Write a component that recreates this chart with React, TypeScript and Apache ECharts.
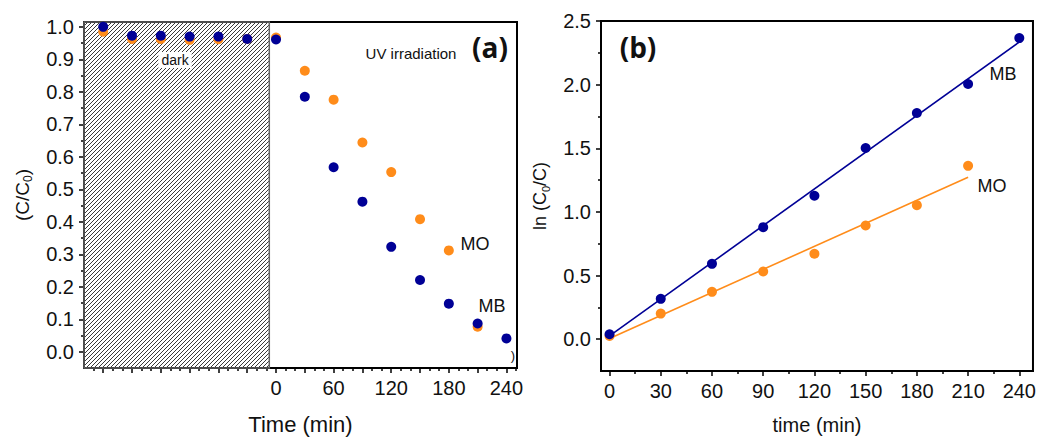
import React, { useEffect, useRef } from "react";
import * as echarts from "echarts";

// ---------- Panel (a): C/C0 vs time ----------
const moTimesA = [-180, -150, -120, -90, -60, -30, 0, 30, 60, 90, 120, 150, 180, 210];
const moRatio = [0.985, 0.963, 0.963, 0.96, 0.962, 0.963, 0.967, 0.865, 0.776, 0.644, 0.553, 0.408, 0.312, 0.077];
const mbTimesA = [-180, -150, -120, -90, -60, -30, 0, 30, 60, 90, 120, 150, 180, 210, 240];
const mbRatio = [1.0, 0.973, 0.973, 0.97, 0.97, 0.963, 0.961, 0.785, 0.568, 0.462, 0.323, 0.221, 0.148, 0.087, 0.041];
const darkSpan = [-200, -7];

const aXMajorTicks = [-180, -150, -120, -90, -60, -30, 0, 30, 60, 90, 120, 150, 180, 210, 240];
const aXMinorTicks = [-190, -170, -160, -140, -130, -110, -100, -80, -70, -50, -40, -20, -10, 10, 20, 40, 50, 70, 80, 100, 110, 130, 140, 160, 170, 190, 200, 220, 230, 250];
const aXLabels = [0, 60, 120, 180, 240];
const aYLabels = [0, 0.1, 0.2, 0.3, 0.4, 0.5, 0.6, 0.7, 0.8, 0.9, 1.0];
const aYMinorTicks = [0.05, 0.15, 0.25, 0.35, 0.45, 0.55, 0.65, 0.75, 0.85, 0.95];

// ---------- Panel (b): ln(C0/C) vs time ----------
const timesB = [0, 30, 60, 90, 120, 150, 180, 210, 240];
const mbLn = [0.039, 0.317, 0.592, 0.88, 1.127, 1.502, 1.777, 2.005, 2.366];
const moTimesB = [0, 30, 60, 90, 120, 150, 180, 210];
const moLn = [0.025, 0.201, 0.372, 0.532, 0.671, 0.893, 1.053, 1.362];
const mbFit = [[0, 0.026], [240, 2.335]];
const moFit = [[0, 0.005], [210, 1.273]];

const bXLabels = [0, 30, 60, 90, 120, 150, 180, 210, 240];
const bXMinorTicks = [15, 45, 75, 105, 135, 165, 195, 225];
const bYLabels = [0, 0.5, 1.0, 1.5, 2.0, 2.5];
const bYMinorTicks = [0.25, 0.75, 1.25, 1.75, 2.25];

const BLUE = "#000096";
const ORANGE = "#FF8C1A";
const FONT = "'Liberation Sans', Arial, sans-serif";

const A_X = [-200, 251];
const A_Y = [-0.05, 1.015];
const B_X = [-5, 248];
const B_Y = [-0.25, 2.5];

function zip(xs: number[], ys: number[]) {
  return xs.map((x, i) => [x, ys[i]]);
}

export default function App() {
  const ref = useRef<HTMLDivElement>(null);
  useEffect(() => {
    document.body.style.margin = "0";
    const chart = echarts.init(ref.current!, null, { renderer: "svg" });

    const tickLine = { color: "#000", width: 1.5 };
    const mainAxisLine = { show: true, onZero: false, lineStyle: { color: "#000", width: 2 } };
    const labelStyle = { color: "#111", fontSize: 20, fontFamily: FONT };

    const option: any = {
      animation: false,
      textStyle: { fontFamily: FONT },
      grid: [
        { left: 84, top: 22, width: 433, height: 348, show: true, borderColor: "#000", borderWidth: 2, backgroundColor: "transparent" },
        { left: 601, top: 21, width: 432, height: 350, show: true, borderColor: "#000", borderWidth: 2, backgroundColor: "transparent" },
      ],
      xAxis: [
        {
          gridIndex: 0, type: "value", min: A_X[0], max: A_X[1], position: "bottom",
          axisLine: mainAxisLine,
          axisTick: { show: true, length: 5, lineStyle: tickLine, customValues: aXMajorTicks },
          axisLabel: { ...labelStyle, margin: 10, customValues: aXLabels },
          splitLine: { show: false },
          name: "Time (min)", nameLocation: "middle", nameGap: 45,
          nameTextStyle: { fontSize: 22, color: "#111", fontFamily: FONT },
        },
        {
          gridIndex: 0, type: "value", min: A_X[0], max: A_X[1], position: "bottom",
          axisLine: { show: false, onZero: false },
          axisTick: { show: true, length: 3, lineStyle: tickLine, customValues: aXMinorTicks },
          axisLabel: { show: false },
          splitLine: { show: false },
        },
        {
          gridIndex: 1, type: "value", min: B_X[0], max: B_X[1], position: "bottom",
          axisLine: mainAxisLine,
          axisTick: { show: true, length: 5, lineStyle: tickLine, customValues: bXLabels },
          axisLabel: { ...labelStyle, margin: 10, customValues: bXLabels },
          splitLine: { show: false },
          name: "time (min)", nameLocation: "middle", nameGap: 44,
          nameTextStyle: { fontSize: 20, color: "#111", fontFamily: FONT },
        },
        {
          gridIndex: 1, type: "value", min: B_X[0], max: B_X[1], position: "bottom",
          axisLine: { show: false, onZero: false },
          axisTick: { show: true, length: 3, lineStyle: tickLine, customValues: bXMinorTicks },
          axisLabel: { show: false },
          splitLine: { show: false },
        },
      ],
      yAxis: [
        {
          gridIndex: 0, type: "value", min: A_Y[0], max: A_Y[1], position: "left",
          axisLine: mainAxisLine,
          axisTick: { show: true, length: 5, lineStyle: tickLine, customValues: aYLabels },
          axisLabel: { ...labelStyle, margin: 10, customValues: aYLabels, formatter: (v: number) => v.toFixed(1) },
          splitLine: { show: false },
          name: "{n|(C/C}{s|0}{n|)}", nameLocation: "middle", nameGap: 50,
          nameTextStyle: {
            color: "#111", fontFamily: FONT,
            rich: {
              n: { fontSize: 19, lineHeight: 24, color: "#111", fontFamily: FONT },
              s: { fontSize: 12, lineHeight: 12, verticalAlign: "bottom", color: "#111", fontFamily: FONT },
            },
          },
        },
        {
          gridIndex: 0, type: "value", min: A_Y[0], max: A_Y[1], position: "left",
          axisLine: { show: false, onZero: false },
          axisTick: { show: true, length: 3, lineStyle: tickLine, customValues: aYMinorTicks },
          axisLabel: { show: false },
          splitLine: { show: false },
        },
        {
          gridIndex: 1, type: "value", min: B_Y[0], max: B_Y[1], position: "left",
          axisLine: mainAxisLine,
          axisTick: { show: true, length: 5, lineStyle: tickLine, customValues: bYLabels },
          axisLabel: { ...labelStyle, margin: 10, customValues: bYLabels, formatter: (v: number) => v.toFixed(1) },
          splitLine: { show: false },
          name: "{n|ln (C}{s|0}{n|/C)}", nameLocation: "middle", nameGap: 50,
          nameTextStyle: {
            color: "#111", fontFamily: FONT,
            rich: {
              n: { fontSize: 18, lineHeight: 22, color: "#111", fontFamily: FONT },
              s: { fontSize: 11, lineHeight: 11, verticalAlign: "bottom", color: "#111", fontFamily: FONT },
            },
          },
        },
        {
          gridIndex: 1, type: "value", min: B_Y[0], max: B_Y[1], position: "left",
          axisLine: { show: false, onZero: false },
          axisTick: { show: true, length: 3, lineStyle: tickLine, customValues: bYMinorTicks },
          axisLabel: { show: false },
          splitLine: { show: false },
        },
      ],
      series: [
        {
          type: "custom",
          xAxisIndex: 0, yAxisIndex: 0,
          silent: true, z: 1,
          data: [darkSpan],
          renderItem: (params: any, api: any) => {
            const p0 = api.coord([api.value(0), A_Y[1]]);
            const p1 = api.coord([api.value(1), A_Y[0]]);
            const x0 = p0[0], y0 = p0[1], x1 = p1[0], y1 = p1[1];
            const children: any[] = [];
            const s = 4;
            for (let c = x0 + y0 + s; c < x1 + y1; c += s) {
              const xa = Math.max(x0, c - y1);
              const xb = Math.min(x1, c - y0);
              if (xb <= xa) continue;
              children.push({
                type: "line",
                shape: { x1: xa, y1: c - xa, x2: xb, y2: c - xb },
                style: { stroke: "#222", lineWidth: 0.9 },
              });
            }
            children.push({
              type: "rect",
              shape: { x: x0, y: y0, width: x1 - x0, height: y1 - y0 },
              style: { fill: "none", stroke: "#666", lineWidth: 1.5 },
            });
            return { type: "group", children };
          },
        },
        {
          name: "MO", type: "scatter", xAxisIndex: 0, yAxisIndex: 0, z: 3,
          symbol: "circle", symbolSize: 10, itemStyle: { color: ORANGE, opacity: 1 },
          data: zip(moTimesA, moRatio),
        },
        {
          name: "MB", type: "scatter", xAxisIndex: 0, yAxisIndex: 0, z: 4,
          symbol: "circle", symbolSize: 10, itemStyle: { color: BLUE, opacity: 1 },
          data: zip(mbTimesA, mbRatio),
        },
        {
          name: "MO fit", type: "line", xAxisIndex: 2, yAxisIndex: 2, z: 3,
          symbol: "none", lineStyle: { color: ORANGE, width: 1.6 },
          data: moFit,
        },
        {
          name: "MB fit", type: "line", xAxisIndex: 2, yAxisIndex: 2, z: 3,
          symbol: "none", lineStyle: { color: BLUE, width: 1.6 },
          data: mbFit,
        },
        {
          name: "MO ln", type: "scatter", xAxisIndex: 2, yAxisIndex: 2, z: 4,
          symbol: "circle", symbolSize: 10, itemStyle: { color: ORANGE, opacity: 1 },
          data: zip(moTimesB, moLn),
        },
        {
          name: "MB ln", type: "scatter", xAxisIndex: 2, yAxisIndex: 2, z: 5,
          symbol: "circle", symbolSize: 10, itemStyle: { color: BLUE, opacity: 1 },
          data: zip(timesB, mbLn),
        },
      ],
      graphic: [
        { type: "text", x: 175, y: 60, z: 10, style: { text: "dark", font: `14px ${FONT}`, fill: "#111", align: "center", verticalAlign: "middle", backgroundColor: "#fff", padding: [1, 3] } },
        { type: "text", x: 411, y: 53, z: 10, style: { text: "UV irradiation", font: `15px ${FONT}`, fill: "#111", align: "center", verticalAlign: "middle" } },
        { type: "text", x: 490, y: 47, z: 10, style: { text: "(a)", font: `bold 28px 'Open Sans', sans-serif`, fill: "#111", align: "center", verticalAlign: "middle" } },
        { type: "text", x: 475, y: 244, z: 10, style: { text: "MO", font: `18px ${FONT}`, fill: "#111", align: "center", verticalAlign: "middle" } },
        { type: "text", x: 492, y: 306, z: 10, style: { text: "MB", font: `18px ${FONT}`, fill: "#111", align: "center", verticalAlign: "middle" } },
        { type: "text", x: 513, y: 355, z: 10, style: { text: ")", font: `13px ${FONT}`, fill: "#111", align: "center", verticalAlign: "middle" } },
        { type: "text", x: 638, y: 47, z: 10, style: { text: "(b)", font: `bold 28px 'Open Sans', sans-serif`, fill: "#111", align: "center", verticalAlign: "middle" } },
        { type: "text", x: 1003, y: 74, z: 10, style: { text: "MB", font: `18px ${FONT}`, fill: "#111", align: "center", verticalAlign: "middle" } },
        { type: "text", x: 992, y: 186, z: 10, style: { text: "MO", font: `18px ${FONT}`, fill: "#111", align: "center", verticalAlign: "middle" } },
      ],
    };
    chart.setOption(option);
    return () => chart.dispose();
  }, []);
  return <div ref={ref} style={{ width: 1039, height: 440 }} />;
}
